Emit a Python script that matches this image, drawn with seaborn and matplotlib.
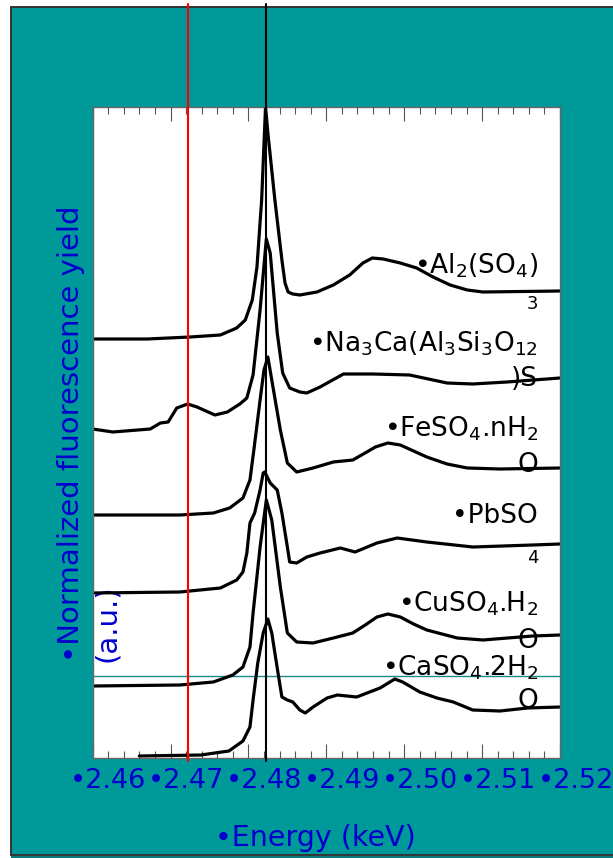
import matplotlib
matplotlib.use("Agg")
import matplotlib.pyplot as plt
import seaborn as sns
import pandas as pd
from matplotlib.patches import Rectangle
from matplotlib.transforms import ScaledTranslation

# ---------------- data (energy in keV, normalized yield with stacking offset) -------------
e_al = [2.4600, 2.4670, 2.4725, 2.4764, 2.4785, 2.4796, 2.4805, 2.4811, 2.4817, 2.4822,
        2.4825, 2.4834, 2.4843, 2.4847, 2.4851, 2.4857, 2.4866, 2.4888, 2.4909, 2.4930,
        2.4947, 2.4959, 2.4973, 2.4995, 2.5016, 2.5037, 2.5059, 2.5081, 2.5101, 2.5200]
y_al = [4.18, 4.18, 4.20, 4.22, 4.29, 4.37, 4.57, 4.90, 5.57, 6.50,
        6.24, 5.57, 4.97, 4.74, 4.65, 4.63, 4.62, 4.65, 4.72, 4.82,
        4.94, 4.99, 4.98, 4.94, 4.89, 4.80, 4.72, 4.67, 4.65, 4.66]

e_na = [2.4600, 2.4626, 2.4674, 2.4687, 2.4697, 2.4708, 2.4722, 2.4734, 2.4757, 2.4773,
        2.4789, 2.4798, 2.4806, 2.4815, 2.4823, 2.4828, 2.4837, 2.4844, 2.4853, 2.4866,
        2.4875, 2.4892, 2.4922, 2.4960, 2.5007, 2.5055, 2.5088, 2.5132, 2.5200]
y_na = [3.28, 3.25, 3.28, 3.34, 3.35, 3.49, 3.53, 3.50, 3.42, 3.45,
        3.53, 3.59, 3.82, 4.47, 5.18, 5.04, 4.24, 3.84, 3.69, 3.65,
        3.64, 3.70, 3.83, 3.83, 3.82, 3.74, 3.73, 3.75, 3.79]

e_fe = [2.4600, 2.4712, 2.4755, 2.4776, 2.4793, 2.4802, 2.4807, 2.4815, 2.4820, 2.4825,
        2.4830, 2.4841, 2.4850, 2.4862, 2.4883, 2.4909, 2.4934, 2.4952, 2.4963, 2.4979,
        2.4995, 2.5012, 2.5029, 2.5055, 2.5081, 2.5123, 2.5200]
y_fe = [2.42, 2.42, 2.44, 2.49, 2.59, 2.77, 3.07, 3.57, 3.87, 4.00,
        3.77, 3.27, 2.94, 2.85, 2.89, 2.95, 2.97, 3.05, 3.10, 3.14,
        3.12, 3.06, 3.00, 2.93, 2.89, 2.88, 2.89]

e_pb = [2.4600, 2.4712, 2.4764, 2.4785, 2.4793, 2.4798, 2.4802, 2.4808, 2.4815, 2.4819,
        2.4821, 2.4828, 2.4837, 2.4843, 2.4850, 2.4853, 2.4862, 2.4875, 2.4892, 2.4918,
        2.4937, 2.4965, 2.4991, 2.5029, 2.5088, 2.5165, 2.5200]
y_pb = [1.64, 1.65, 1.69, 1.77, 1.85, 2.04, 2.34, 2.44, 2.67, 2.84,
        2.85, 2.74, 2.67, 2.44, 2.10, 1.95, 1.94, 2.00, 2.04, 2.09,
        2.05, 2.14, 2.19, 2.15, 2.10, 2.12, 2.13]

e_cu = [2.4600, 2.4712, 2.4755, 2.4780, 2.4793, 2.4802, 2.4806, 2.4815, 2.4823, 2.4830,
        2.4841, 2.4850, 2.4862, 2.4883, 2.4909, 2.4934, 2.4950, 2.4965, 2.4979, 2.4995,
        2.5012, 2.5029, 2.5068, 2.5101, 2.5165, 2.5200]
y_cu = [0.71, 0.72, 0.75, 0.82, 0.90, 1.10, 1.44, 2.10, 2.57, 2.37,
        1.70, 1.24, 1.15, 1.14, 1.19, 1.24, 1.32, 1.40, 1.43, 1.40,
        1.33, 1.27, 1.19, 1.17, 1.21, 1.22]

e_ca = [2.4660, 2.4739, 2.4775, 2.4793, 2.4802, 2.4806, 2.4812, 2.4819, 2.4825, 2.4830,
        2.4838, 2.4843, 2.4850, 2.4857, 2.4866, 2.4873, 2.4883, 2.4901, 2.4914, 2.4939,
        2.4969, 2.4988, 2.4998, 2.5020, 2.5042, 2.5063, 2.5088, 2.5123, 2.5158, 2.5200]
y_ca = [0.01, 0.02, 0.06, 0.16, 0.30, 0.57, 0.94, 1.24, 1.38, 1.24,
        0.84, 0.60, 0.57, 0.55, 0.47, 0.44, 0.50, 0.59, 0.62, 0.60,
        0.69, 0.78, 0.75, 0.65, 0.59, 0.55, 0.47, 0.46, 0.49, 0.50]

samples = ["Al2(SO4)3", "Na3Ca(Al3Si3O12)S", "FeSO4.nH2O", "PbSO4", "CuSO4.H2O", "CaSO4.2H2O"]
energies = [e_al, e_na, e_fe, e_pb, e_cu, e_ca]
yields = [y_al, y_na, y_fe, y_pb, y_cu, y_ca]

# label text: (first line, second line, baseline y of line 1, baseline y of line 2)
label_line1 = [r"•Al$_2$(SO$_4$)", r"•Na$_3$Ca(Al$_3$Si$_3$O$_{12}$", r"•FeSO$_4$.nH$_2$",
               "•PbSO", r"•CuSO$_4$.H$_2$", r"•CaSO$_4$.2H$_2$"]
label_line2 = ["3", ")S", "O", "4", "O", "O"]
label_y1 = [4.84, 4.06, 3.20, 2.34, 1.45, 0.82]
label_y2 = [4.44, 3.71, 2.85, 1.90, 1.09, 0.49]
label_small = [True, False, False, True, False, False]

tick_vals = [2.46, 2.47, 2.48, 2.49, 2.50, 2.51, 2.52]
tick_labels = ["•2.46", "•2.47", "•2.48", "•2.49", "•2.50", "•2.51", "•2.52"]
minor_vals = [2.46 + 0.002 * i for i in range(31)]

red_line_e = 2.4723      # sulfide reference
black_line_e = 2.4822    # sulfate white line
teal_line_y = 0.81

TEAL = "#009999"
BLUE = "#0000cc"

# ---------------- figure ----------------
sns.set_style("white")
plt.rcParams["font.family"] = ["DejaVu Sans"]
plt.rcParams["mathtext.fontset"] = "dejavusans"

fig = plt.figure(figsize=(6.13, 8.58), dpi=100)
fig.patch.set_facecolor("white")
fig.patches.append(Rectangle((11 / 613, 3 / 858), 1.0, 848 / 858, transform=fig.transFigure,
                             facecolor=TEAL, edgecolor="#333333", lw=1.4, zorder=-10))
fig.patches.append(Rectangle((11 / 613, 0), 1.0, 1.6 / 858, transform=fig.transFigure,
                             facecolor="#0a7a7a", edgecolor="none", zorder=-9))

ax = fig.add_axes([92.6 / 613, 1 - 758 / 858, (560 - 92.6) / 613, (758 - 107) / 858])
ax.set_facecolor("white")

df = pd.concat([pd.DataFrame({"energy": e, "yield": y, "sample": s})
                for e, y, s in zip(energies, yields, samples)], ignore_index=True)
sns.lineplot(data=df, x="energy", y="yield", units="sample", estimator=None, sort=False,
             color="black", lw=2.3, ax=ax, legend=False, solid_joinstyle="round",
             solid_capstyle="round")

ax.set_xlim(2.46, 2.52)
ax.set_ylim(-0.01, 6.50)

# reference lines
ax.axvline(red_line_e, ymin=-0.004, ymax=1.158, color="red", lw=1.5, clip_on=False, zorder=5)
ax.axvline(black_line_e, ymin=-0.004, ymax=1.158, color="black", lw=1.5, clip_on=False, zorder=5)
ax.axhline(teal_line_y, color="#1a8a8a", lw=1.0, zorder=1)

# sample labels
for l1, l2, y1, y2, small in zip(label_line1, label_line2, label_y1, label_y2, label_small):
    ax.text(2.5172, y1, l1, ha="right", va="baseline", fontsize=19, color="black", zorder=6)
    if small:
        ax.text(2.5172, y2, l2, ha="right", va="bottom", fontsize=13, color="black", zorder=6)
    else:
        ax.text(2.5172, y2, l2, ha="right", va="baseline", fontsize=19, color="black", zorder=6)

# axes styling
ax.set_xticks(tick_vals)
ax.set_xticklabels(tick_labels)
ax.set_xticks(minor_vals, minor=True)
ax.set_yticks([])
ax.tick_params(axis="x", which="both", direction="in", top=True, bottom=True,
               color="#555555", width=0.8, labelcolor=BLUE, labelsize=19.5, pad=7)
ax.tick_params(axis="x", which="major", length=10)
ax.tick_params(axis="x", which="minor", length=5)
offset = ScaledTranslation(15.5 / 100, 0, fig.dpi_scale_trans)
for lbl in ax.get_xticklabels():
    lbl.set_transform(lbl.get_transform() + offset)
for sp in ax.spines.values():
    sp.set_color("#666666")
    sp.set_linewidth(1.0)

ax.set_xlabel("•Energy (keV)", fontsize=20.5, color=BLUE)
ax.xaxis.label.set_va("center")
ax.xaxis.set_label_coords((315 - 92.6) / 467.4, (758 - 838) / 651)

ax.set_ylabel("•Normalized fluorescence yield\n(a.u.)", fontsize=21, color=BLUE)
ax.yaxis.label.set(ha="left", va="bottom", rotation_mode="anchor",
                   multialignment="left", linespacing=1.38)
ax.yaxis.set_label_coords((121 - 92.6) / 467.4, (758 - 662) / 651)

fig.savefig("out.png", dpi=100, facecolor=fig.get_facecolor())
